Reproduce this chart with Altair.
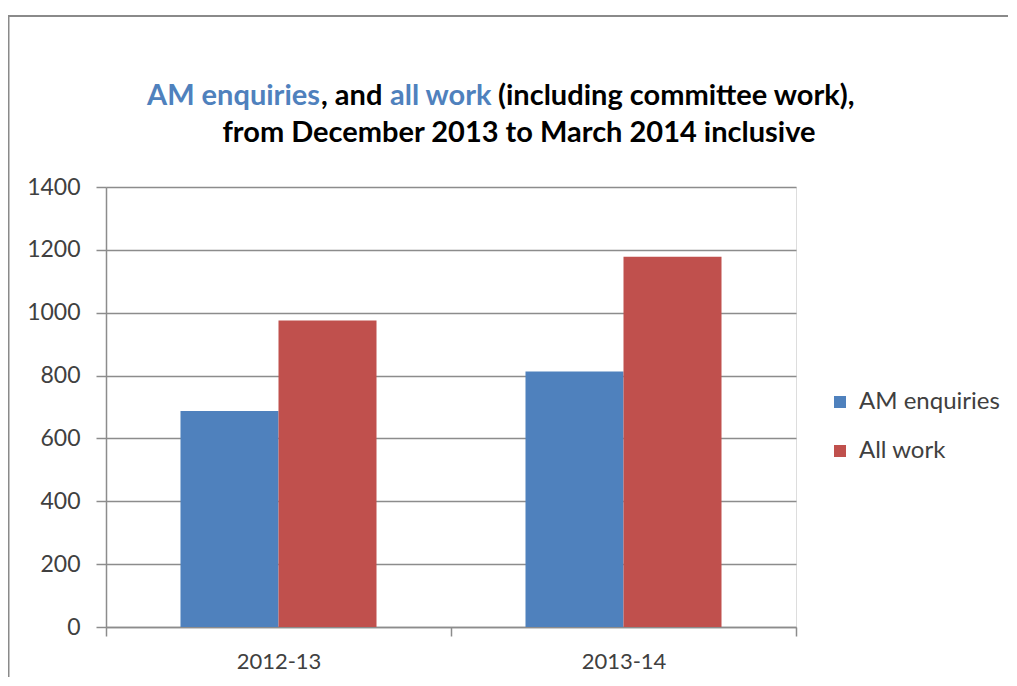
import altair as alt
import pandas as pd

categories = ["2012-13", "2013-14"]
series = ["AM enquiries", "All work"]
am_enquiries = [687, 813]
all_work = [975, 1178]
y_ticks = [0, 200, 400, 600, 800, 1000, 1200, 1400]

title_line1 = ["AM enquiries", ", and", "all work", "(including committee work),"]
title_line2 = "from December 2013 to March 2014 inclusive"

BLUE = "#4F81BD"
RED = "#C0504D"
GRID = "#8c8c8c"
LABEL = "#404040"
FONT = "Lato"

rows = []
for i, c in enumerate(categories):
    rows.append({"year": c, "series": series[0], "value": am_enquiries[i]})
    rows.append({"year": c, "series": series[1], "value": all_work[i]})
df = pd.DataFrame(rows)

bars = alt.Chart(df).mark_bar().encode(
    x=alt.X("year:N", sort=categories,
            scale=alt.Scale(paddingInner=0, paddingOuter=0),
            axis=alt.Axis(title=None, labelAngle=0, tickBand="extent", grid=False,
                          tickSize=9, tickColor=GRID, domainColor=GRID, tickWidth=1.5,
                          domainWidth=1.5, labelFontSize=22, labelFont=FONT,
                          labelColor=LABEL, labelPadding=15)),
    xOffset=alt.XOffset("series:N", sort=series,
                        scale=alt.Scale(paddingInner=0, paddingOuter=0.76)),
    y=alt.Y("value:Q", scale=alt.Scale(domain=[0, 1400], nice=False),
            axis=alt.Axis(title=None, values=y_ticks, format="d", grid=True,
                          gridColor=GRID, gridWidth=1.5, tickSize=10, tickColor=GRID,
                          tickWidth=1.5, domainColor=GRID, domainWidth=1.5,
                          labelFontSize=23, labelFont=FONT, labelColor=LABEL,
                          labelPadding=16)),
    color=alt.Color("series:N", sort=series,
                    scale=alt.Scale(domain=series, range=[BLUE, RED]),
                    legend=alt.Legend(title=None, orient="none", legendX=722, legendY=203,
                                      symbolType="square", symbolSize=144,
                                      symbolStrokeWidth=0, labelFontSize=24,
                                      labelFont=FONT, labelColor=LABEL, rowPadding=25,
                                      labelOffset=7)),
)

one = pd.DataFrame({"k": [0]})

def title_piece(text, x, color, align="left", y=-82):
    return alt.Chart(pd.DataFrame({"t": [text]})).mark_text(
        align=align, baseline="alphabetic", font=FONT, fontWeight="bold",
        fontSize=29, color=color
    ).encode(x=alt.value(x), y=alt.value(y), text="t:N")

t1 = title_piece(title_line1[0], 41, BLUE)
t2 = title_piece(title_line1[1], 215, "#000000")
t3 = title_piece(title_line1[2], 284, BLUE)
t4 = title_piece(title_line1[3], 392, "#000000")
t5 = title_piece(title_line2, 413, "#000000", align="center", y=-45)

frame_top = alt.Chart(one).mark_rule(color="#8a8a8a", strokeWidth=2).encode(
    x=alt.value(-98), x2=alt.value(1000), y=alt.value(-171))
frame_left = alt.Chart(one).mark_rule(color="#8a8a8a", strokeWidth=3).encode(
    x=alt.value(-98), y=alt.value(-172), y2=alt.value(600))

chart = alt.layer(bars, t1, t2, t3, t4, t5, frame_top, frame_left).properties(
    width=690, height=440,
    autosize=alt.AutoSizeParams(type="none"),
    padding={"left": 98, "top": 179, "right": 212, "bottom": 50},
).configure_view(stroke=None).configure(background="white")

chart.save("out.html", embed_options={"renderer": "svg", "actions": False})
